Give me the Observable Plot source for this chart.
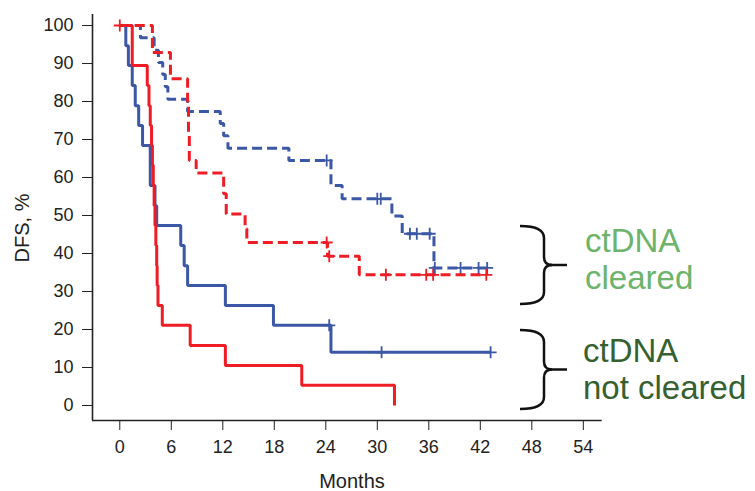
<!DOCTYPE html>
<html><head><meta charset="utf-8">
<script src="https://cdn.jsdelivr.net/npm/d3@7"></script>
<script src="https://cdn.jsdelivr.net/npm/@observablehq/plot@0.6"></script>
<style>body{margin:0;background:#fff;} #chart{width:755px;height:491px;}</style>
</head><body><div id="chart"></div>
<script>
// ---- data ----
const xTicks = [0, 6, 12, 18, 24, 30, 36, 42, 48, 54];
const yTicks = [0, 10, 20, 30, 40, 50, 60, 70, 80, 90, 100];

// ctDNA not cleared, blue arm (solid)
const blueSolidT = [0, 0.7, 1.0, 1.45, 1.8, 2.2, 2.65, 3.55, 4.1, 4.3, 7.1, 7.5, 7.9, 12.3, 17.9, 24.6, 43.2];
const blueSolidS = [100, 94.7, 89.5, 84.2, 78.9, 73.7, 68.4, 57.9, 52.6, 47.4, 42.1, 36.8, 31.6, 26.3, 21.1, 14.0, 14.0];
const blueSolidCensT = [24.4, 30.5, 43.2];
const blueSolidCensS = [21.1, 14.0, 14.0];

// ctDNA not cleared, red arm (solid)
const redSolidT = [0, 1.45, 3.2, 3.4, 3.55, 3.7, 3.8, 3.9, 4.0, 4.1, 4.2, 4.3, 4.35, 4.45, 4.95, 8.2, 12.3, 21.2, 32.0];
const redSolidS = [100, 89.5, 84.2, 78.9, 73.7, 68.4, 63.2, 57.9, 52.6, 47.4, 42.1, 36.8, 31.6, 26.3, 21.1, 15.8, 10.5, 5.3, 0];
const redSolidCensT = [0];
const redSolidCensS = [100];

// ctDNA cleared, blue arm (dashed)
const blueDashT = [0, 2.4, 4.0, 4.5, 5.0, 5.3, 5.6, 7.9, 11.7, 12.1, 12.6, 19.7, 24.6, 25.9, 31.7, 32.9, 36.6, 42.8];
const blueDashS = [100, 96.8, 93.5, 90.3, 87.1, 83.9, 80.6, 77.4, 74.2, 71.0, 67.7, 64.5, 57.9, 54.4, 49.9, 45.2, 36.2, 36.2];
const blueDashCensT = [24.1, 30.0, 30.4, 33.8, 34.6, 36.1, 36.7, 39.7, 41.8, 42.8];
const blueDashCensS = [64.5, 54.4, 54.4, 45.2, 45.2, 45.2, 36.2, 36.2, 36.2, 36.2];

// ctDNA cleared, red arm (dashed)
const redDashT = [0, 3.8, 5.9, 7.9, 8.0, 8.1, 8.9, 12.1, 12.4, 14.6, 14.8, 24.2, 27.9, 42.7];
const redDashS = [100, 92.9, 86.0, 80.0, 72.0, 64.5, 61.2, 55.7, 50.4, 46.5, 42.9, 39.3, 34.4, 34.4];
const redDashCensT = [24.1, 24.4, 31.0, 35.7, 36.5, 42.7];
const redDashCensS = [42.9, 39.3, 34.4, 34.4, 34.4, 34.4];

const BLUE = "#3b57a6", RED = "#ee1c25";

// ---- build tables ----
const pts = (T, S) => T.map((t, i) => ({t, s: S[i]}));
const plusSymbol = {
  draw(ctx, size) {
    const r = Math.sqrt(size / Math.PI);
    ctx.moveTo(-r, 0); ctx.lineTo(r, 0);
    ctx.moveTo(0, -r); ctx.lineTo(0, r);
  }
};
const X0 = -3.18, X1 = 56.2, Y0 = -3.95, Y1 = 102.9;

const lineOpts = (stroke, dashed) => ({
  x: "t", y: "s", curve: "step-after", stroke, strokeWidth: 3,
  strokeDasharray: dashed ? "10,5" : null, strokeLinejoin: "miter", strokeLinecap: "butt"
});
const censOpts = (stroke) => ({x: "t", y: "s", symbol: plusSymbol, r: 6, stroke, strokeWidth: 1.8, fill: "none"});

const plot = Plot.plot({
  width: 755, height: 491,
  marginLeft: 92, marginRight: 153.3, marginTop: 14, marginBottom: 71,
  style: {fontFamily: "'Liberation Sans', Arial, sans-serif", fontSize: "18px", color: "#222", background: "#fff", overflow: "visible"},
  x: {domain: [X0, X1], ticks: xTicks, tickSize: 10, tickPadding: 10, label: null},
  y: {domain: [Y0, Y1], ticks: yTicks, tickSize: 10, tickPadding: 9, label: null},
  marks: [
    Plot.ruleX([X0], {stroke: "#222", strokeWidth: 1.6}),
    Plot.ruleY([Y0], {stroke: "#222", strokeWidth: 1.6}),
    Plot.line(pts(blueDashT, blueDashS), lineOpts(BLUE, true)),
    Plot.line(pts(blueSolidT, blueSolidS), lineOpts(BLUE, false)),
    Plot.dot(pts(blueDashCensT, blueDashCensS), censOpts(BLUE)),
    Plot.dot(pts(blueSolidCensT, blueSolidCensS), censOpts(BLUE)),
    Plot.line(pts(redDashT, redDashS), lineOpts(RED, true)),
    Plot.line(pts(redSolidT, redSolidS), lineOpts(RED, false)),
    Plot.dot(pts(redDashCensT, redDashCensS), censOpts(RED)),
    Plot.dot(pts(redSolidCensT, redSolidCensS), censOpts(RED))
  ]
});
document.getElementById("chart").appendChild(plot);

// ---- annotations ----
const svg = d3.select(plot);
const ff = "'Liberation Sans', Arial, sans-serif";
svg.append("text").attr("transform", "translate(29,228) rotate(-90)")
  .attr("text-anchor", "middle").attr("font-family", ff).attr("font-size", 20).attr("fill", "#222").text("DFS, %");
svg.append("text").attr("x", 352).attr("y", 488)
  .attr("text-anchor", "middle").attr("font-family", ff).attr("font-size", 20).attr("fill", "#222").text("Months");

function brace(top, bot) {
  const mid = (top + bot) / 2;
  const d = `M520,${top} Q544,${top} 544,${top + 12} L544,${mid - 8} Q544,${mid} 552,${mid} Q544,${mid} 544,${mid + 8} L544,${bot - 12} Q544,${bot} 520,${bot}`;
  svg.append("path").attr("d", d).attr("fill", "none").attr("stroke", "#111").attr("stroke-width", 2.5);
  svg.append("line").attr("x1", 550).attr("x2", 567).attr("y1", mid).attr("y2", mid).attr("stroke", "#111").attr("stroke-width", 2.5);
}
brace(226, 304);
brace(330, 409);
const ann = [
  {lines: ["ctDNA", "cleared"], x: 585, y: 252, color: "#6db36b"},
  {lines: ["ctDNA", "not cleared"], x: 583, y: 362, color: "#36602f"}
];
for (const a of ann) {
  a.lines.forEach((l, i) => svg.append("text").attr("x", a.x).attr("y", a.y + i * 37)
    .attr("text-anchor", "start").attr("font-family", ff).attr("font-size", 33).attr("fill", a.color).text(l));
}
</script></body></html>
